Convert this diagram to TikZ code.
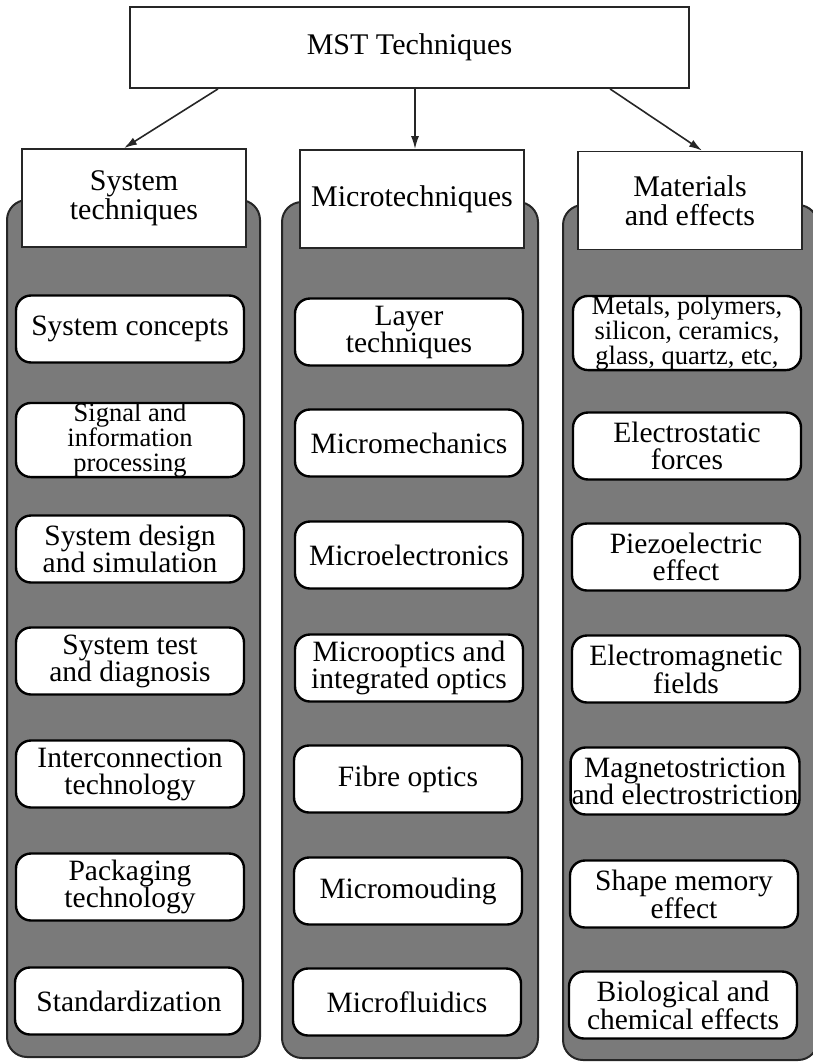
\documentclass[tikz,border=0pt]{standalone}
\usepackage{fontspec}
\setmainfont{Liberation Serif}
\usetikzlibrary{arrows.meta,calc}
\begin{document}
\begin{tikzpicture}[x=1pt,y=-1pt,
  panel/.style={draw=black!85,line width=2pt,fill=black!52,rounded corners=20pt},
  headbox/.style={draw=black!85,line width=1.8pt,fill=white,minimum width=224pt,
    minimum height=98pt,align=center,inner sep=0pt,font=\fontsize{30}{29}\selectfont},
  item/.style={draw=black,line width=2.4pt,fill=white,rounded corners=15pt,
    minimum width=228pt,minimum height=67pt,align=center,inner sep=1pt,
    font=\fontsize{29.5}{27}\selectfont},
  tripleitem/.style={item,inner sep=0pt,font=\fontsize{26.5}{25}\selectfont},
  link/.style={draw=black!85,line width=1.6pt,-{Latex[length=13pt,width=8pt]}}
]
\useasboundingbox (0,0) rectangle (813,1063);

% grey column panels
\draw[panel] (7,200) rectangle (260,1057);
\draw[panel] (282,202) rectangle (538,1058);
\draw[panel] (563,205) rectangle (818,1060);

% top box
\node[draw=black!85,line width=1.8pt,fill=white,minimum width=559pt,minimum height=81pt,
  font=\fontsize{30}{26}\selectfont] (mst) at (409.5,47.5) {MST Techniques};

% column headers
\node[headbox] (sys) at (134,198) {System\\techniques};
\node[headbox] (mic) at (412,199) {Microtechniques};
\node[headbox] (mat) at (690,200.5) {Materials\\and effects};

% arrows from the top box
\draw[link] ([xshift=-191.5pt]mst.south) -- ([xshift=-10pt]sys.north);
\draw[link] ([xshift=5.5pt]mst.south) -- ([xshift=3pt]mic.north);
\draw[link] ([xshift=200.5pt]mst.south) -- ([xshift=12pt]mat.north);

% left column
\node[item] (s1) at (130,329) {System concepts};
\node[tripleitem] (s2) at (130,440) {Signal and\\information\\processing};
\node[item] (s3) at (130,549) {System design\\and simulation};
\node[item] (s4) at (130,661) {System test\\and diagnosis};
\node[item] (s5) at (130,774) {Interconnection\\technology};
\node[item] (s6) at (130,887) {Packaging\\technology};
\node[item] (s7) at (129,1001) {Standardization};

% middle column
\node[item] (m1) at (409,332) {Layer\\techniques};
\node[item] (m2) at (409,443) {Micromechanics};
\node[item] (m3) at (409,555) {Microelectronics};
\node[item] (m4) at (409,668) {Microoptics and\\integrated optics};
\node[item] (m5) at (408,779) {Fibre optics};
\node[item] (m6) at (408,891) {Micromouding};
\node[item] (m7) at (407,1002) {Microfluidics};

% right column
\node[tripleitem] (r1) at (687,333) {Metals, polymers,\\silicon, ceramics,\\glass, quartz, etc,};
\node[item] (r2) at (687,446) {Electrostatic\\forces};
\node[item] (r3) at (686,557) {Piezoelectric\\effect};
\node[item] (r4) at (686,669) {Electromagnetic\\fields};
\node[item] (r5) at (685,781) {Magnetostriction\\and electrostriction};
\node[item] (r6) at (684,894) {Shape memory\\effect};
\node[item] (r7) at (683,1005) {Biological and\\chemical effects};
\end{tikzpicture}
\end{document}
